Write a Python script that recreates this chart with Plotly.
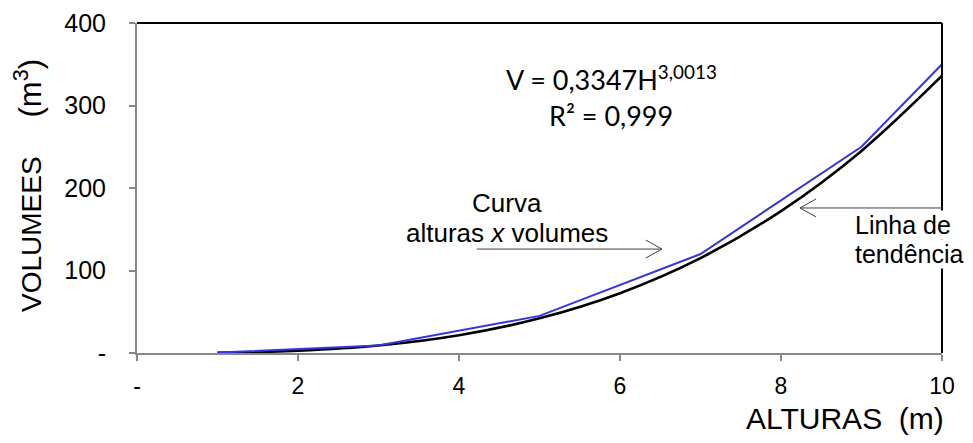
import plotly.graph_objects as go

# Data
alturas = [1, 3, 5, 7, 9, 10]
volumes = [0.5, 9, 45, 120, 250, 350]

trend_h = [1, 2, 3, 4, 5, 6, 7, 8, 9, 10]
trend_v = [0.33, 2.7, 9.05, 21.5, 42, 72.5, 115, 172, 245, 336]

x_tickvals = [0, 2, 4, 6, 8, 10]
x_ticktext = ["-", "2", "4", "6", "8", "10"]
y_tickvals = [0, 100, 200, 300, 400]
y_ticktext = ["-", "100", "200", "300", "400"]

AX_GRAY = "#878787"
FONT = "Liberation Sans, Arial, sans-serif"

# plot area in page pixels: x 137..942, y 23..353 (page has an 8px body margin)
fig = go.Figure()
fig.add_trace(go.Scatter(x=trend_h, y=trend_v, mode="lines", line=dict(color="black", width=2.6, shape="spline"),
                         hoverinfo="skip", showlegend=False))
fig.add_trace(go.Scatter(x=alturas, y=volumes, mode="lines", line=dict(color="#3535DF", width=2),
                         showlegend=False))

fig.update_layout(
    width=973, height=443,
    margin=dict(l=129, r=39, t=15, b=98),
    paper_bgcolor="white", plot_bgcolor="white",
    font=dict(family=FONT, size=22, color="black"),
    xaxis=dict(range=[0, 10], tickvals=x_tickvals, ticktext=x_ticktext, showgrid=False, zeroline=False,
               showline=True, linecolor=AX_GRAY, linewidth=2, ticks="outside", ticklen=6, tickwidth=2,
               tickcolor=AX_GRAY, ticklabelstandoff=5, tickfont=dict(size=23), automargin=False),
    yaxis=dict(range=[0, 400], tickvals=y_tickvals, ticktext=y_ticktext, showgrid=False, zeroline=False,
               showline=True, linecolor=AX_GRAY, linewidth=2, ticks="outside", ticklen=6, tickwidth=2,
               tickcolor=AX_GRAY, ticklabelstandoff=18, tickfont=dict(size=25), automargin=False),
)

shapes = [
    dict(type="line", xref="paper", yref="paper", x0=0, x1=1, y0=1, y1=1, line=dict(color="black", width=2)),
    dict(type="line", xref="paper", yref="paper", x0=1, x1=1, y0=0, y1=1, line=dict(color="black", width=2)),
]
arrow_col = "#404040"
def arrow(x_tail, x_tip, y, dx, dy):
    return [
        dict(type="line", xref="x", yref="y", x0=x_tail, x1=x_tip, y0=y, y1=y, line=dict(color=arrow_col, width=1)),
        dict(type="line", xref="x", yref="y", x0=x_tip, x1=x_tip + dx, y0=y, y1=y + dy, line=dict(color=arrow_col, width=1)),
        dict(type="line", xref="x", yref="y", x0=x_tip, x1=x_tip + dx, y0=y, y1=y - dy, line=dict(color=arrow_col, width=1)),
    ]
shapes += arrow(4.22, 6.52, 126, -0.2, 10.9)
shapes += arrow(10.0, 8.236, 175.8, 0.2, 10.9)
fig.update_layout(shapes=shapes)

def px_x(px):
    return (px - 137) / 805

def px_y(py):
    return (353 - py) / 330

ann = [
    dict(text="V = 0,3347H<sup>3,0013</sup>", x=px_x(611), y=px_y(78), xref="paper", yref="paper", showarrow=False,
         font=dict(family="Lato, sans-serif", size=27), xanchor="center", yanchor="middle"),
    dict(text="R² = 0,999", x=px_x(611), y=px_y(115), xref="paper", yref="paper", showarrow=False,
         font=dict(family="Lato, sans-serif", size=27), xanchor="center", yanchor="middle"),
    dict(text="Curva", x=px_x(507), y=px_y(203), xref="paper", yref="paper", showarrow=False,
         font=dict(size=26), xanchor="center", yanchor="middle"),
    dict(text="alturas <i>x</i> volumes", x=px_x(507), y=px_y(233), xref="paper", yref="paper", showarrow=False,
         font=dict(size=26), xanchor="center", yanchor="middle"),
    dict(text="Linha de", x=px_x(854), y=px_y(225), xref="paper", yref="paper", showarrow=False,
         font=dict(size=25), xanchor="left", yanchor="middle", bgcolor="white", borderpad=0),
    dict(text="tendência", x=px_x(854), y=px_y(254), xref="paper", yref="paper", showarrow=False,
         font=dict(size=25), xanchor="left", yanchor="middle", bgcolor="white", borderpad=0),
    dict(text="VOLUMEES&nbsp;&nbsp;&nbsp;&nbsp;&nbsp;<span style='font-size:31px'>(m<sup>3</sup>)</span>",
         x=px_x(28), y=px_y(185), xref="paper", yref="paper", showarrow=False,
         textangle=-90, font=dict(size=28), xanchor="center", yanchor="middle"),
    dict(text="ALTURAS&nbsp;&nbsp;(m)", x=px_x(845), y=px_y(418), xref="paper", yref="paper", showarrow=False,
         font=dict(size=30), xanchor="center", yanchor="middle"),
]
fig.update_layout(annotations=ann)

fig.write_html("out.html")
